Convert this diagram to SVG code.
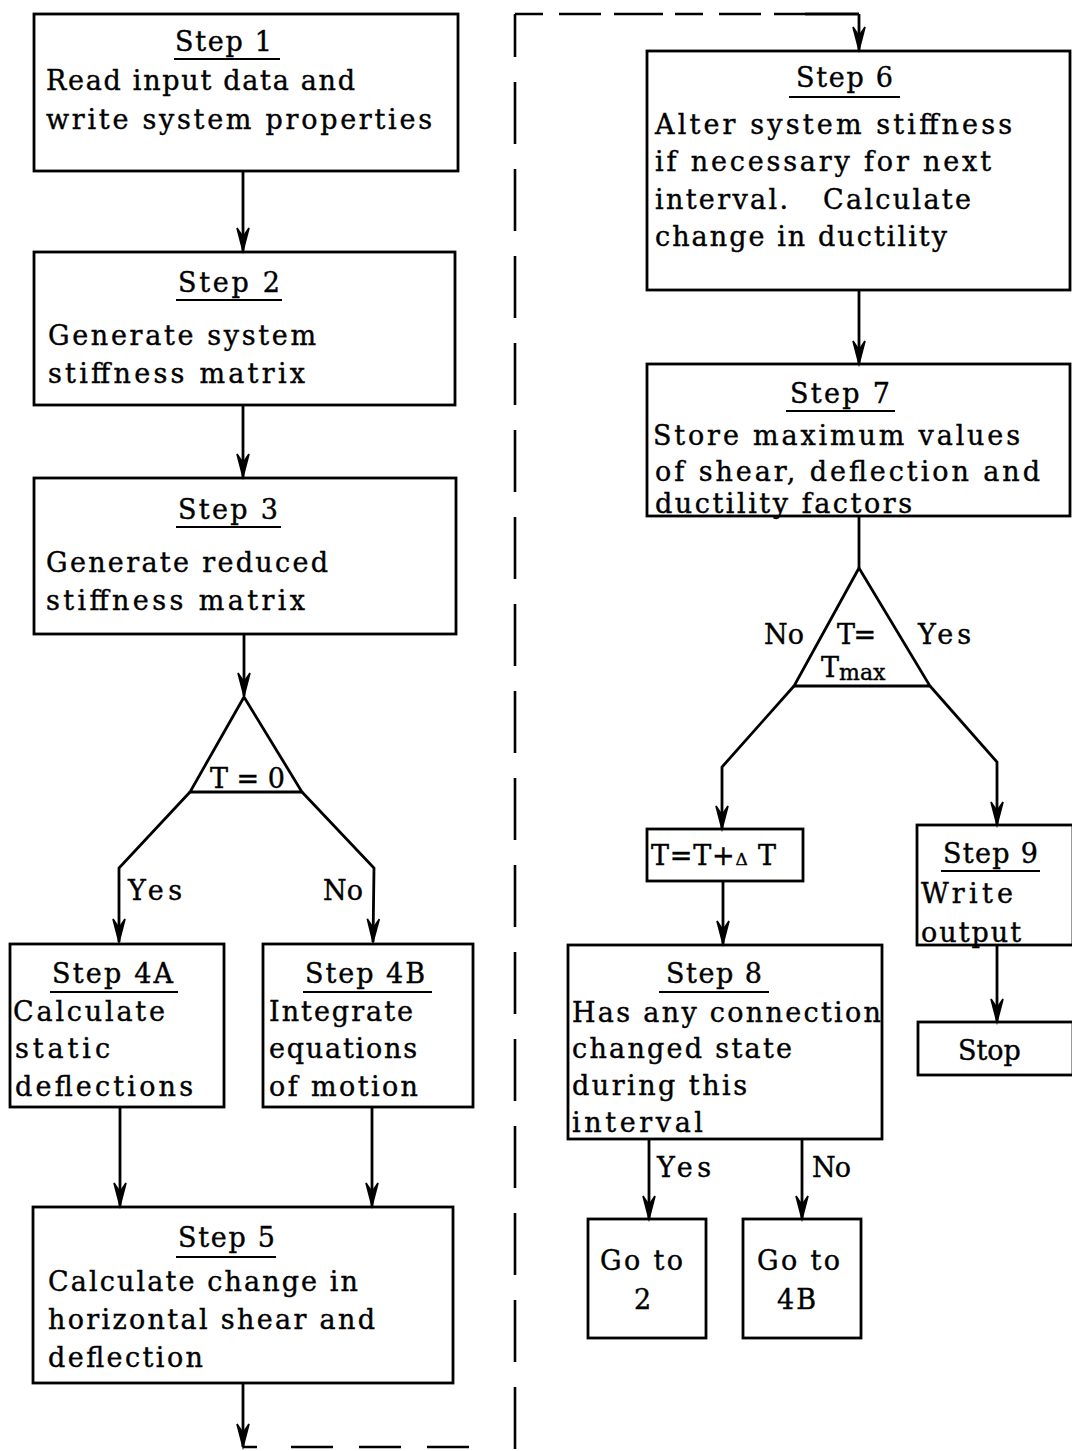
<svg xmlns="http://www.w3.org/2000/svg" width="1072" height="1451" viewBox="0 0 1072 1451">
<style>
.box{fill:none;stroke:#000;stroke-width:2.8}
.ln{fill:none;stroke:#000;stroke-width:2.8}
.ul{stroke:#000;stroke-width:2.2}
.dash{fill:none;stroke:#000;stroke-width:2.6}
text{font-family:"DejaVu Serif","Liberation Serif",serif;font-size:27px;fill:#000;stroke:#000;stroke-width:0.4}
.sm{font-size:22px}
</style>
<defs>
<marker id="arr" markerUnits="userSpaceOnUse" orient="auto" markerWidth="30" markerHeight="20" viewBox="-25 -10 30 20" refX="0" refY="0" overflow="visible">
<path d="M-23,-6 L0,0 L-23,6 L-14,0 Z" fill="#000" stroke="#000" stroke-width="1.6" stroke-linejoin="miter"/>
</marker>
</defs>
<rect width="1072" height="1451" fill="#fff"/>

<g id="connectors">
<line class="ln" x1="243" y1="171" x2="243" y2="251" marker-end="url(#arr)"/>
<line class="ln" x1="243" y1="405" x2="243" y2="477" marker-end="url(#arr)"/>
<line class="ln" x1="244" y1="634" x2="244" y2="696" marker-end="url(#arr)"/>
<polyline class="ln" points="190,792 119,868 119,942" marker-end="url(#arr)"/>
<polyline class="ln" points="302,792 374,868 373,942" marker-end="url(#arr)"/>
<line class="ln" x1="120" y1="1107" x2="120" y2="1206" marker-end="url(#arr)"/>
<line class="ln" x1="372" y1="1107" x2="372" y2="1206" marker-end="url(#arr)"/>
<line class="ln" x1="243" y1="1383" x2="243" y2="1447" marker-end="url(#arr)"/>
<path class="dash" d="M243,1447 H515" stroke-dasharray="14 34 42 26 42 26 42 60"/>
<path class="dash" d="M515,1449 V14" stroke-dasharray="62 25"/>
<path class="dash" d="M515,14 H805" stroke-dasharray="28 16 42 13 49 12"/>
<line class="ln" x1="805" y1="14" x2="859" y2="14"/>
<line class="ln" x1="859" y1="14" x2="859" y2="50" marker-end="url(#arr)"/>
<line class="ln" x1="859" y1="290" x2="859" y2="364" marker-end="url(#arr)"/>
<line class="ln" x1="859" y1="516" x2="859" y2="568"/>
<polyline class="ln" points="794,686 722,767 722,829" marker-end="url(#arr)"/>
<polyline class="ln" points="930,686 997,762 997,825" marker-end="url(#arr)"/>
<line class="ln" x1="723" y1="881" x2="723" y2="944" marker-end="url(#arr)"/>
<line class="ln" x1="997" y1="945" x2="997" y2="1022" marker-end="url(#arr)"/>
<line class="ln" x1="649" y1="1139" x2="649" y2="1219" marker-end="url(#arr)"/>
<line class="ln" x1="802" y1="1139" x2="802" y2="1219" marker-end="url(#arr)"/>
</g>

<g id="step1">
<rect class="box" x="34" y="14" width="424" height="157"/>
<text x="175" y="51" textLength="97" lengthAdjust="spacing">Step 1</text>
<line class="ul" x1="174" y1="59" x2="280" y2="59"/>
<text x="46" y="90" textLength="309" lengthAdjust="spacing">Read input data and</text>
<text x="46" y="129" textLength="386" lengthAdjust="spacing">write system properties</text>
</g>

<g id="step2">
<rect class="box" x="34" y="252" width="421" height="153"/>
<text x="178" y="292" textLength="102" lengthAdjust="spacing">Step 2</text>
<line class="ul" x1="176" y1="300" x2="282" y2="300"/>
<text x="48" y="345" textLength="268" lengthAdjust="spacing">Generate system</text>
<text x="48" y="383" textLength="257" lengthAdjust="spacing">stiffness matrix</text>
</g>

<g id="step3">
<rect class="box" x="34" y="478" width="422" height="156"/>
<text x="178" y="519" textLength="100" lengthAdjust="spacing">Step 3</text>
<line class="ul" x1="176" y1="527" x2="281" y2="527"/>
<text x="46" y="572" textLength="282" lengthAdjust="spacing">Generate reduced</text>
<text x="46" y="610" textLength="259" lengthAdjust="spacing">stiffness matrix</text>
</g>

<g id="decision1">
<polygon class="box" points="244,697 190,792 302,792"/>
<text x="210" y="788">T = 0</text>
<text x="128" y="900" textLength="54" lengthAdjust="spacing">Yes</text>
<text x="323" y="900" textLength="40" lengthAdjust="spacing">No</text>
</g>

<g id="step4a">
<rect class="box" x="10" y="944" width="214" height="163"/>
<text x="52" y="983" textLength="121" lengthAdjust="spacing">Step 4A</text>
<line class="ul" x1="50" y1="992" x2="178" y2="992"/>
<text x="13" y="1021" textLength="152" lengthAdjust="spacing">Calculate</text>
<text x="15" y="1058" textLength="95" lengthAdjust="spacing">static</text>
<text x="15" y="1096" textLength="178" lengthAdjust="spacing">deflections</text>
</g>

<g id="step4b">
<rect class="box" x="263" y="944" width="210" height="163"/>
<text x="305" y="983" textLength="120" lengthAdjust="spacing">Step 4B</text>
<line class="ul" x1="303" y1="992" x2="432" y2="992"/>
<text x="269" y="1021" textLength="144" lengthAdjust="spacing">Integrate</text>
<text x="269" y="1058" textLength="148" lengthAdjust="spacing">equations</text>
<text x="269" y="1096" textLength="149" lengthAdjust="spacing">of motion</text>
</g>

<g id="step5">
<rect class="box" x="33" y="1207" width="420" height="176"/>
<text x="178" y="1247" textLength="97" lengthAdjust="spacing">Step 5</text>
<line class="ul" x1="176" y1="1257" x2="276" y2="1257"/>
<text x="48" y="1291" textLength="310" lengthAdjust="spacing">Calculate change in</text>
<text x="48" y="1329" textLength="327" lengthAdjust="spacing">horizontal shear and</text>
<text x="48" y="1367" textLength="155" lengthAdjust="spacing">deflection</text>
</g>

<g id="step6">
<rect class="box" x="647" y="51" width="423" height="239"/>
<text x="796" y="87" textLength="97" lengthAdjust="spacing">Step 6</text>
<line class="ul" x1="789" y1="97" x2="900" y2="97"/>
<text x="655" y="134" textLength="357" lengthAdjust="spacing">Alter system stiffness</text>
<text x="655" y="171" textLength="336" lengthAdjust="spacing">if necessary for next</text>
<text y="209"><tspan x="655" textLength="133" lengthAdjust="spacing">interval.</tspan> <tspan x="823" textLength="148" lengthAdjust="spacing">Calculate</tspan></text>
<text x="655" y="246" textLength="292" lengthAdjust="spacing">change in ductility</text>
</g>

<g id="step7">
<rect class="box" x="647" y="364" width="423" height="152"/>
<text x="790" y="403" textLength="100" lengthAdjust="spacing">Step 7</text>
<line class="ul" x1="786" y1="411" x2="895" y2="411"/>
<text x="653" y="445" textLength="367" lengthAdjust="spacing">Store maximum values</text>
<text x="655" y="481" textLength="385" lengthAdjust="spacing">of shear, deflection and</text>
<text x="655" y="513" textLength="257" lengthAdjust="spacing">ductility factors</text>
</g>

<g id="decision2">
<polygon class="box" points="859,568 794,686 930,686"/>
<text x="837" y="644" textLength="39" lengthAdjust="spacing">T=</text>
<text x="821" y="677">T<tspan class="sm" dy="3">max</tspan></text>
<text x="764" y="644" textLength="40" lengthAdjust="spacing">No</text>
<text x="918" y="644" textLength="53" lengthAdjust="spacing">Yes</text>
</g>

<g id="increment">
<rect class="box" x="647" y="829" width="156" height="52"/>
<text x="651" y="865" textLength="125" lengthAdjust="spacing">T=T+<tspan font-size="17">Δ</tspan> T</text>
</g>

<g id="step9">
<rect class="box" x="917" y="825" width="156" height="120"/>
<text x="943" y="863" textLength="95" lengthAdjust="spacing">Step 9</text>
<line class="ul" x1="941" y1="871" x2="1040" y2="871"/>
<text x="921" y="903" textLength="92" lengthAdjust="spacing">Write</text>
<text x="921" y="942" textLength="100" lengthAdjust="spacing">output</text>
</g>

<g id="step8">
<rect class="box" x="568" y="945" width="314" height="194"/>
<text x="666" y="983" textLength="96" lengthAdjust="spacing">Step 8</text>
<line class="ul" x1="659" y1="992" x2="769" y2="992"/>
<text x="572" y="1022" textLength="309" lengthAdjust="spacing">Has any connection</text>
<text x="572" y="1058" textLength="220" lengthAdjust="spacing">changed state</text>
<text x="572" y="1095" textLength="175" lengthAdjust="spacing">during this</text>
<text x="572" y="1132" textLength="131" lengthAdjust="spacing">interval</text>
<text x="657" y="1177" textLength="54" lengthAdjust="spacing">Yes</text>
<text x="812" y="1177" textLength="39" lengthAdjust="spacing">No</text>
</g>

<g id="stop">
<rect class="box" x="918" y="1022" width="155" height="53"/>
<text x="958" y="1060">Stop</text>
</g>

<g id="goto2">
<rect class="box" x="588" y="1219" width="118" height="119"/>
<text x="600" y="1270" textLength="83" lengthAdjust="spacing">Go to</text>
<text x="634" y="1309">2</text>
</g>

<g id="goto4b">
<rect class="box" x="743" y="1219" width="118" height="119"/>
<text x="757" y="1270" textLength="83" lengthAdjust="spacing">Go to</text>
<text x="777" y="1309" textLength="39" lengthAdjust="spacing">4B</text>
</g>
</svg>
